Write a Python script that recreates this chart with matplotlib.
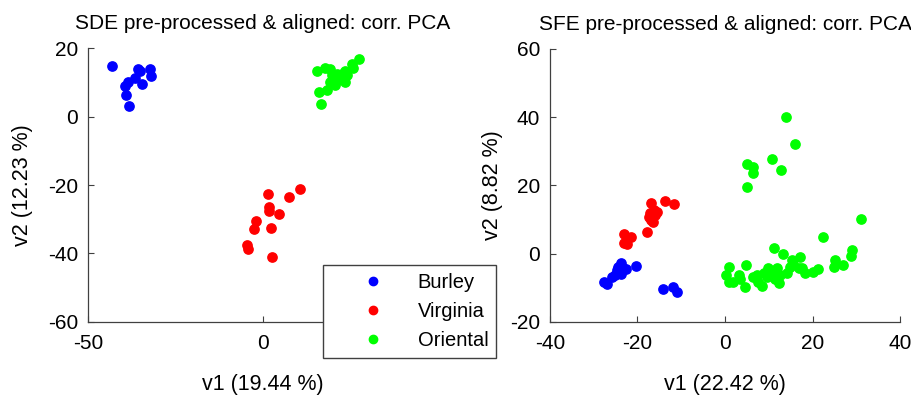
import numpy as np
import matplotlib
matplotlib.use("Agg")
from matplotlib import pyplot as plt

# SDE panel: (v1, v2) per group
sde_burley_x = [-43.2, -35.8, -32.3, -32.1, -34.5, -36.6, -38.7, -39.4, -39.2, -38.4, -35.1]
sde_burley_y = [14.8, 14.0, 14.0, 11.8, 9.4, 11.2, 10.2, 8.9, 6.2, 3.0, 13.3]
sde_virginia_x = [1.5, 10.4, 7.5, 1.7, 1.8, 4.6, -2.1, -2.5, 2.3, -4.5, -4.2, 2.6]
sde_virginia_y = [-22.5, -21.2, -23.4, -26.3, -27.7, -28.5, -30.6, -32.8, -32.5, -37.5, -38.7, -40.9]
sde_oriental_x = [15.3, 17.7, 19.1, 21.1, 23.4, 25.3, 27.5, 25.8, 23.4, 22.0, 20.1,
                  20.6, 18.2, 16.1, 16.6, 19.6, 22.5, 21.5, 23.9, 19.1]
sde_oriental_y = [13.4, 14.1, 13.8, 12.6, 13.4, 15.5, 16.8, 14.3, 10.2, 11.6, 11.1,
                  9.2, 7.7, 7.3, 3.6, 12.1, 12.6, 10.7, 12.1, 10.2]

# SFE panel
sfe_burley_x = [-27.6, -26.9, -25.1, -23.8, -23.2, -23.8, -24.6, -22.6, -20.3,
                -14.1, -11.8, -11.0, -25.9, -24.4]
sfe_burley_y = [-8.4, -9.0, -6.1, -2.6, -4.3, -6.0, -4.8, -4.6, -3.6,
                -10.3, -9.7, -11.2, -6.8, -3.8]
sfe_virginia_x = [-23.1, -21.5, -22.5, -23.0, -17.9, -17.0, -16.2, -16.0, -16.8,
                  -17.3, -16.4, -13.7, -11.6, -17.1, -15.6]
sfe_virginia_y = [5.9, 5.0, 2.8, 3.2, 6.3, 14.8, 12.8, 11.3, 9.9,
                  10.8, 9.4, 15.4, 14.7, 11.9, 12.3]
sfe_oriental_x = [13.9, 16.0, 10.7, 12.7, 5.1, 6.5, 6.5, 5.1, 31.0, 22.3, 11.2, 13.3,
                  17.1, 29.0, 28.7, 27.0, 25.1, 24.8, 21.3, 20.0, 18.3, 16.8, 15.2,
                  14.9, 14.1, 12.4, 12.6, 10.7, 9.9, 8.8, 8.4, 7.6, 7.2, 6.5, 4.6,
                  4.8, 3.4, 3.3, 1.9, 0.8, 0.2, 0.8, 11.8, 11.4, 9.5, 15.6, 17.5]
sfe_oriental_y = [40.2, 32.2, 27.7, 24.4, 26.2, 25.5, 23.6, 19.5, 10.1, 4.9, 1.7, -0.2,
                  -0.9, 1.0, -0.7, -3.4, -1.9, -3.8, -4.6, -5.3, -5.8, -4.3, -1.9,
                  -3.8, -5.6, -8.5, -6.3, -5.8, -4.3, -5.8, -9.5, -8.3, -6.3, -6.8, -9.7,
                  -3.4, -7.3, -6.3, -8.3, -3.8, -6.3, -8.3, -4.3, -7.3, -6.8, -2.9, -4.3]

groups = ["Burley", "Virginia", "Oriental"]
colors = ["#0000ff", "#ff0000", "#00ff00"]

plt.rcParams["font.family"] = ["Liberation Sans", "DejaVu Sans"]
plt.rcParams["axes.unicode_minus"] = False

fig = plt.figure(figsize=(9.12, 3.95), dpi=100)
ax1 = fig.add_axes([0.0965, 0.185, 0.384, 0.693])
ax2 = fig.add_axes([0.603, 0.185, 0.384, 0.691])

sde = [(sde_burley_x, sde_burley_y), (sde_virginia_x, sde_virginia_y),
       (sde_oriental_x, sde_oriental_y)]
sfe = [(sfe_burley_x, sfe_burley_y), (sfe_virginia_x, sfe_virginia_y),
       (sfe_oriental_x, sfe_oriental_y)]

handles = []
for (x, y), c, name in zip(sde, colors, groups):
    h, = ax1.plot(x, y, "o", color=c, ms=6.7, mec=c, label=name)
    handles.append(h)
for (x, y), c in zip(sfe, colors):
    ax2.plot(x, y, "o", color=c, ms=6.7, mec=c)

ax1.set_xlim(-50, 50)
ax1.set_ylim(-60, 20)
ax1.set_xticks([-50, 0, 50])
ax1.set_yticks([-60, -40, -20, 0, 20])
ax1.set_title("SDE pre-processed & aligned: corr. PCA", fontsize=15, pad=14)
ax1.set_xlabel("v1 (19.44 %)", fontsize=15.5)
ax1.set_ylabel("v2 (12.23 %)", fontsize=15.5)
ax1.xaxis.set_label_coords(0.5, -0.19)
ax1.yaxis.set_label_coords(-0.157, 0.5)

ax2.set_xlim(-40, 40)
ax2.set_ylim(-20, 60)
ax2.set_xticks([-40, -20, 0, 20, 40])
ax2.set_yticks([-20, 0, 20, 40, 60])
ax2.set_title("SFE pre-processed & aligned: corr. PCA", fontsize=15, pad=14)
ax2.set_xlabel("v1 (22.42 %)", fontsize=15.5)
ax2.set_ylabel("v2 (8.82 %)", fontsize=15.5)
ax2.xaxis.set_label_coords(0.5, -0.19)
ax2.yaxis.set_label_coords(-0.134, 0.5)

for ax in (ax1, ax2):
    for side in ("top", "right"):
        ax.spines[side].set_visible(False)
    for side in ("left", "bottom"):
        ax.spines[side].set_color("#404040")
        ax.spines[side].set_linewidth(0.9)
    ax.tick_params(direction="in", length=4, width=0.8, color="#404040",
                   labelsize=15)
    ax.tick_params(axis="x", pad=9)
    ax.tick_params(axis="y", pad=7)

# legend sits over the lower-right corner of the left panel (hides its "50")
leg = fig.legend(handles=handles, loc="lower left",
                 bbox_to_anchor=(323 / 912, 1 - 358 / 395), fontsize=14.5,
                 frameon=True, fancybox=False, edgecolor="#404040",
                 framealpha=1.0, handlelength=4.2, handletextpad=0.1,
                 borderpad=0.4, labelspacing=0.5, borderaxespad=0)
leg.get_frame().set_linewidth(1.0)
leg.set_zorder(10)
for h in leg.legend_handles:
    h.set_markersize(6)
fig.savefig("out.png", dpi=100)
